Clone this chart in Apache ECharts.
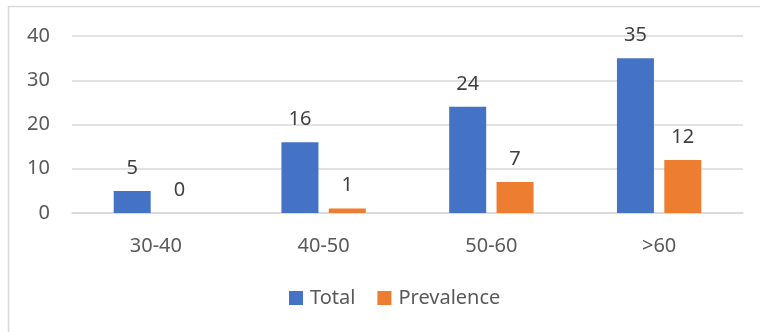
<!DOCTYPE html>
<html>
<head>
<meta charset="utf-8">
<script src="https://cdn.jsdelivr.net/npm/echarts@6/dist/echarts.min.js"></script>
<style>
  html, body { margin: 0; padding: 0; background: #fff; }
  #chart { width: 760px; height: 332px; }
</style>
</head>
<body>
<div id="chart"></div>
<script>
var categories = ['30-40', '40-50', '50-60', '>60'];
var totalValues = [5, 16, 24, 35];
var prevalenceValues = [0, 1, 7, 12];
var yTicks = { min: 0, max: 40, interval: 10 };

var font = '"Noto Sans", sans-serif';

var chart = echarts.init(document.getElementById('chart'));
var option = {
    animation: false,
    color: ['#4472C4', '#ED7D31'],
    graphic: [{
        type: 'rect',
        shape: { x: 8.5, y: 6.5, width: 800, height: 400 },
        style: { fill: 'none', stroke: '#d9d9d9', lineWidth: 1.5 },
        silent: true
    }],
    grid: { left: 72, right: 17, top: 36, bottom: 119 },
    legend: {
        bottom: 19,
        left: 284,
        itemWidth: 14,
        itemHeight: 14,
        itemGap: 22,
        icon: 'rect',
        textStyle: { fontFamily: font, fontSize: 20, color: '#595959', padding: [0, 0, 0, 2] },
        data: ['Total', 'Prevalence']
    },
    xAxis: {
        type: 'category',
        data: categories,
        axisLine: { lineStyle: { color: '#d9d9d9', width: 1.5 } },
        axisTick: { show: false },
        axisLabel: { fontFamily: font, fontSize: 20, color: '#595959', margin: 23 }
    },
    yAxis: {
        type: 'value',
        min: yTicks.min,
        max: yTicks.max,
        interval: yTicks.interval,
        axisLine: { show: false },
        axisTick: { show: false },
        splitLine: { lineStyle: { color: '#d9d9d9', width: 1.5 } },
        axisLabel: { fontFamily: font, fontSize: 20, color: '#595959', margin: 22 }
    },
    series: [
        {
            name: 'Total',
            type: 'bar',
            data: totalValues,
            barWidth: 37,
            barGap: '28%',
            label: { show: true, position: 'top', distance: 13, fontFamily: font, fontSize: 20, color: '#404040' }
        },
        {
            name: 'Prevalence',
            type: 'bar',
            data: prevalenceValues,
            barWidth: 37,
            label: { show: true, position: 'top', distance: 13, fontFamily: font, fontSize: 20, color: '#404040' }
        }
    ]
};
chart.setOption(option);
</script>
</body>
</html>
